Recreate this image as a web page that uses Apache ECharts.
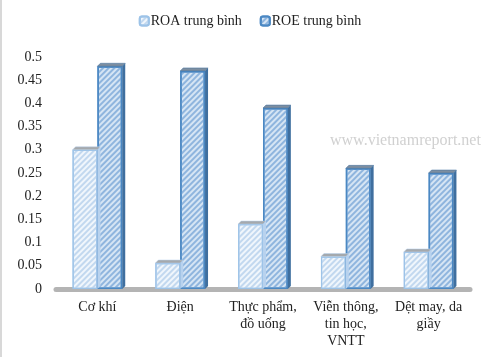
<!DOCTYPE html>
<html><head><meta charset="utf-8">
<script src="https://cdn.jsdelivr.net/npm/echarts@6/dist/echarts.min.js"></script>
<style>html,body{margin:0;padding:0;background:#fff}#c{width:500px;height:357px}</style>
</head><body><div id="c"></div>
<script>
var categories = ['Cơ khí', 'Điện', 'Thực phẩm,\nđồ uống', 'Viễn thông,\ntin học,\nVNTT', 'Dệt may, da\ngiầy'];
var roa = [0.30, 0.056, 0.14, 0.07, 0.08];
var roe = [0.48, 0.47, 0.39, 0.26, 0.25];
var seriesNames = ['ROA trung bình', 'ROE trung bình'];
var yTicks = [0, 0.05, 0.1, 0.15, 0.2, 0.25, 0.3, 0.35, 0.4, 0.45, 0.5];

var FONT = '"Liberation Serif", "DejaVu Serif", serif';
var chart = echarts.init(document.getElementById('c'), null, {renderer: 'canvas'});
var CAT_GAP = 0.4;

function capSeries(values, idx, faceColor, sideColor) {
  return {
    type: 'custom', silent: true, z: 3,
    data: values.map(function (v, i) { return [i, v]; }),
    renderItem: function (params, api) {
      var band = api.size([1, 0])[0];
      var bw = band * (1 - CAT_GAP) / 2;
      var c = api.coord([api.value(0), api.value(1)]);
      var base = api.coord([api.value(0), 0]);
      var x0 = idx === 0 ? c[0] - bw : c[0];
      var x1 = x0 + bw;
      var top = c[1];
      var d = 3;
      return {
        type: 'group', children: [
          {type: 'polygon', shape: {points: [[x0, top], [x0 + d, top - d], [x1 + d, top - d], [x1, top]]},
            style: {fill: faceColor, stroke: sideColor, lineWidth: 0.5}},
          {type: 'polygon', shape: {points: [[x1, top], [x1 + d, top - d], [x1 + d, base[1] - d], [x1, base[1]]]},
            style: {fill: sideColor}}
        ]
      };
    }
  };
}

var option = {
  backgroundColor: '#fff',
  animation: false,
  legend: {
    top: 9, left: 'center', itemGap: 18, itemWidth: 9, itemHeight: 9,
    data: seriesNames,
    textStyle: {fontFamily: FONT, fontSize: 14, color: '#222', padding: [0, 0, 0, -3]}
  },
  grid: {left: 56, right: 30, top: 57, bottom: 68},
  xAxis: {
    type: 'category', data: categories,
    axisLine: {show: true, lineStyle: {color: '#b4b4b4', width: 5}},
    axisTick: {show: false},
    axisLabel: {fontFamily: FONT, fontSize: 14, color: '#222', lineHeight: 17, margin: 10, interval: 0}
  },
  yAxis: {
    type: 'value', min: 0, max: 0.5, interval: 0.05,
    splitLine: {show: false},
    axisLine: {show: false}, axisTick: {show: false},
    axisLabel: {fontFamily: FONT, fontSize: 14, color: '#222', margin: 14,
      formatter: function (v) { return String(Math.round(v * 100) / 100); }}
  },
  series: [
    {
      name: seriesNames[0], type: 'bar', data: roa, barGap: '0%', barCategoryGap: '40%', z: 2,
      itemStyle: {color: '#f0f6fc', borderColor: '#9dc3e8', borderWidth: 1.2,
        decal: {symbol: 'rect', symbolSize: 1, color: '#c2d8ef', dashArrayX: [1, 0], dashArrayY: [1.2, 2], rotation: -Math.PI / 4}}
    },
    {
      name: seriesNames[1], type: 'bar', data: roe, barGap: '0%', barCategoryGap: '40%', z: 2,
      itemStyle: {color: '#d6e5f4', borderColor: '#4b88c3', borderWidth: 1.5,
        decal: {symbol: 'rect', symbolSize: 1, color: '#8fb5de', dashArrayX: [1, 0], dashArrayY: [1.2, 2], rotation: -Math.PI / 4}}
    },
    capSeries(roa, 0, '#a5a9ad', '#b8d2ee'),
    capSeries(roe, 1, '#7d8ea0', '#3f6f9f')
  ],
  graphic: [
    {type: 'rect', left: 0, top: 0, shape: {width: 2, height: 357}, style: {fill: '#d8d8d8'}},
    {type: 'text', left: 330, top: 133, style: {text: 'www.vietnamreport.net', fontFamily: FONT, fontSize: 16, fill: 'rgba(170,170,170,0.55)'}}
  ]
};
chart.setOption(option);
</script></body></html>
